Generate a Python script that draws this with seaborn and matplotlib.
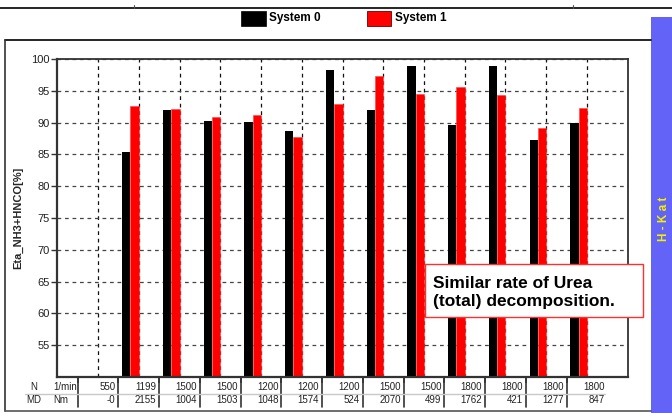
import numpy as np
import pandas as pd
import matplotlib
matplotlib.use("Agg")
import matplotlib.pyplot as plt
import matplotlib.transforms as mtransforms
from matplotlib.lines import Line2D
from matplotlib.patches import Rectangle
import seaborn as sns

# operating points (table under the chart)
speed_n = [550, 1199, 1500, 1500, 1200, 1200, 1200, 1500, 1500, 1800, 1800, 1800, 1800]
torque_md = [-0, 2155, 1004, 1503, 1048, 1574, 524, 2070, 499, 1762, 421, 1277, 847]
torque_lbl = ["-0", "2155", "1004", "1503", "1048", "1574", "524", "2070", "499",
              "1762", "421", "1277", "847"]

# Eta_NH3+HNCO [%] per operating point (first point has no bars)
eta_sys0 = [np.nan, 85.3, 91.9, 90.2, 90.1, 88.7, 98.3, 91.9, 98.9, 89.6, 98.9, 87.2, 89.9]
eta_sys1 = [np.nan, 92.6, 92.1, 90.8, 91.2, 87.8, 92.9, 97.4, 94.5, 95.6, 94.3, 89.2, 92.3]

systems = ["System 0", "System 1"]
y_ticks = [55, 60, 65, 70, 75, 80, 85, 90, 95, 100]

sns.set_theme(style="white")
plt.rcParams["font.family"] = ["Liberation Sans", "DejaVu Sans"]

cats = [f"{n}/{m}" for n, m in zip(speed_n, torque_lbl)]
df = pd.DataFrame({
    "point": cats * 2,
    "system": [systems[0]] * len(cats) + [systems[1]] * len(cats),
    "eta": eta_sys0 + eta_sys1,
})

fig = plt.figure(figsize=(6.72, 4.13), dpi=100)
ax = fig.add_axes([0.0853, 0.0872, 0.8488, 0.770])

sns.barplot(data=df, x="point", y="eta", hue="system", order=cats, hue_order=systems,
            palette={"System 0": "black", "System 1": "#ff0000"}, saturation=1,
            width=0.41, gap=0, dodge=True, errorbar=None, legend=False,
            linewidth=0, ax=ax)

for p in ax.patches:
    if p.get_facecolor()[0] > 0.5:
        p.set_edgecolor("#ff4040")
        p.set_linewidth(0.4)

n = len(cats)
d = 0.205  # red bar right edge sits on the dashed grid line
idx = np.arange(n)

ax.set_xlim(-1 + d, n + d)
ax.set_ylim(50, 100)
ax.set_yticks(y_ticks)
ax.set_yticklabels([str(v) for v in y_ticks], fontsize=8, color="#222")
ax.set_xticks(idx + d - 0.5)
ax.set_xticklabels([])
ax.set_xticks(idx + d, minor=True)
ax.tick_params(axis="x", which="major", direction="out", length=4, width=1.2,
               color="#333", bottom=True)
ax.tick_params(axis="x", which="minor", length=0)
ax.tick_params(axis="y", direction="out", length=4, width=1, color="#333", left=True, pad=1.5)
ax.set_xlabel("")
ax.set_ylabel("Eta_NH3+HNCO[%]", fontsize=8, fontweight="bold", labelpad=6)

ax.set_axisbelow(True)
ax.grid(False)
ax.grid(axis="y", which="major", linestyle=(0, (3, 3)), color="#444", lw=0.9)
ax.grid(axis="x", which="minor", linestyle=(0, (3, 3)), color="#111", lw=0.9)
for s in ax.spines.values():
    s.set_color("#333")
    s.set_linewidth(1.3)
ax.spines["left"].set_linewidth(1.6)
ax.spines["bottom"].set_linewidth(1.6)

# table with operating points
tr = mtransforms.blended_transform_factory(ax.transData, fig.transFigure)
y_n, y_md = 1 - 386.7 / 413, 1 - 400.3 / 413
px = 14 / 570.4  # data units per pixel
for i in range(n):
    xr = i + d + 0.5 - 3 * px
    fig.text(xr, y_n, str(speed_n[i]), transform=tr, ha="right", va="center",
             fontsize=7, color="#222")
    fig.text(xr, y_md, torque_lbl[i], transform=tr, ha="right", va="center",
             fontsize=7, color="#222")
    fig.add_artist(Line2D([i + d - 0.5] * 2, [1 - 378 / 413, 1 - 407 / 413],
                          transform=tr, color="#333", lw=1.2))
fig.text(34 / 672, y_n, "N", ha="center", va="center", fontsize=7, color="#222")
fig.text(34 / 672, y_md, "MD", ha="center", va="center", fontsize=7, color="#222")
fig.text(53 / 672, y_n, "1/min", ha="left", va="center", fontsize=7, color="#222")
fig.text(53 / 672, y_md, "Nm", ha="left", va="center", fontsize=7, color="#222")
fig.add_artist(Line2D([25 / 672, 605 / 672], [1 - 393.5 / 413] * 2,
                      transform=fig.transFigure, color="#c8c8c8", lw=1))

# page frame
ff = fig.transFigure
fig.add_artist(Line2D([0, 1], [1 - 7.5 / 413] * 2, transform=ff, color="black", lw=1.2))
for xt in (134, 573):
    fig.add_artist(Line2D([xt / 672] * 2, [1 - 7.5 / 413, 1 - 4.5 / 413], transform=ff,
                          color="#555", lw=0.8))
fig.add_artist(Line2D([5 / 672, 651 / 672], [1 - 40 / 413] * 2, transform=ff, color="black", lw=1.2))
fig.add_artist(Line2D([5 / 672] * 2, [1 - 40 / 413, 1 - 411 / 413], transform=ff, color="#333", lw=1.2))
fig.add_artist(Line2D([5 / 672, 651 / 672], [1 - 411 / 413] * 2, transform=ff, color="#555", lw=1.2))

# legend
fig.add_artist(Rectangle((241 / 672, 1 - 26 / 413), 25 / 672, 15 / 413, transform=ff,
                         facecolor="black", edgecolor="black", lw=0.5))
fig.text(269 / 672, 1 - 18.5 / 413, systems[0], ha="left", va="center",
         fontsize=8.5, fontweight="bold", color="black")
fig.add_artist(Rectangle((367 / 672, 1 - 26 / 413), 24 / 672, 15 / 413, transform=ff,
                         facecolor="#ff0000", edgecolor="#600", lw=0.6))
fig.text(395 / 672, 1 - 18.5 / 413, systems[1], ha="left", va="center",
         fontsize=8.5, fontweight="bold", color="black")

# blue side stripe
fig.add_artist(Rectangle((651 / 672, 0), 21 / 672, 1 - 17 / 413, transform=ff,
                         facecolor="#6363f7", edgecolor="none"))
fig.text(664 / 672, 1 - 219 / 413, "H - K a t", rotation=90, ha="center", va="center",
         fontsize=8.5, fontweight="bold", color="#f4f000")

# annotation box
fig.add_artist(Rectangle((425 / 672, 1 - 317 / 413), 217.7 / 672, 53 / 413, transform=ff,
                         facecolor="white", edgecolor="#ff3030", lw=1.0, zorder=5))
fig.text(433 / 672, 1 - 292.5 / 413, "Similar rate of Urea\n(total) decomposition.",
         ha="left", va="center", fontsize=12.5, fontweight="bold", color="black",
         linespacing=1.2, zorder=6)

fig.savefig("out.png", dpi=100)
